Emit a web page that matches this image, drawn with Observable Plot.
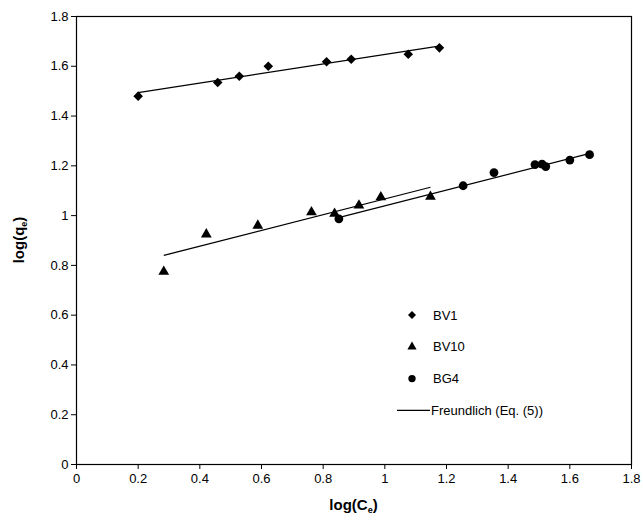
<!DOCTYPE html>
<html><head><meta charset="utf-8">
<script src="https://cdn.jsdelivr.net/npm/d3@7"></script>
<script src="https://cdn.jsdelivr.net/npm/@observablehq/plot@0.6"></script>
<style>body{margin:0;background:#fff} #chart{width:643px;height:521px}</style>
</head><body><div id="chart"></div>
<script>
// Data
const bv1X = [0.200, 0.458, 0.528, 0.622, 0.811, 0.891, 1.076, 1.177];
const bv1Y = [1.480, 1.535, 1.560, 1.600, 1.618, 1.628, 1.648, 1.674];
const bv10X = [0.283, 0.421, 0.588, 0.762, 0.837, 0.916, 0.987, 1.148];
const bv10Y = [0.775, 0.925, 0.960, 1.014, 1.008, 1.041, 1.074, 1.076];
const bg4X = [0.851, 1.254, 1.354, 1.487, 1.510, 1.522, 1.600, 1.664];
const bg4Y = [0.987, 1.120, 1.173, 1.205, 1.207, 1.197, 1.223, 1.245];
// Freundlich fit lines (start/end)
const fitSeries = ["BV1", "BV10", "BG4"];
const fitX1 = [0.200, 0.283, 0.850];
const fitY1 = [1.494, 0.840, 0.992];
const fitX2 = [1.175, 1.148, 1.665];
const fitY2 = [1.681, 1.114, 1.250];
const xTicks = [0, 0.2, 0.4, 0.6, 0.8, 1, 1.2, 1.4, 1.6, 1.8];
const xTickLabels = ["0", "0.2", "0.4", "0.6", "0.8", "1", "1.2", "1.4", "1.6", "1.8"];
const yTicks = [0, 0.2, 0.4, 0.6, 0.8, 1, 1.2, 1.4, 1.6, 1.8];
const yTickLabels = ["0", "0.2", "0.4", "0.6", "0.8", "1", "1.2", "1.4", "1.6", "1.8"];
const legendLabels = ["BV1", "BV10", "BG4", "Freundlich (Eq. (5))"];

const points = [
  ...bv1X.map((x, i) => ({series: "BV1", x, y: bv1Y[i]})),
  ...bv10X.map((x, i) => ({series: "BV10", x, y: bv10Y[i]})),
  ...bg4X.map((x, i) => ({series: "BG4", x, y: bg4Y[i]}))
];
const fits = fitSeries.map((s, i) => ({series: s, x1: fitX1[i], y1: fitY1[i], x2: fitX2[i], y2: fitY2[i]}));

const W = 643, H = 521;
const mL = 76, mR = 12, mT = 16, mB = 57;

const symFor = {BV1: "diamond2", BV10: "triangle", BG4: "circle"};
const rFor = {BV1: 4.3, BV10: 4.0, BG4: 4.4};

const plot = Plot.plot({
  width: W, height: H,
  marginLeft: mL, marginRight: mR, marginTop: mT, marginBottom: mB,
  style: {fontFamily: "'Liberation Sans', Arial, sans-serif", fontSize: "13px", color: "#000", background: "#fff"},
  x: {domain: [0, 1.8], ticks: xTicks, tickFormat: (d, i) => xTickLabels[i], tickSize: 5, tickPadding: 4, label: null},
  y: {domain: [0, 1.8], ticks: yTicks, tickFormat: (d, i) => yTickLabels[i], tickSize: 5, tickPadding: 3, label: null},
  marks: [
    Plot.frame({stroke: "#000", strokeWidth: 1.2}),
    Plot.link(fits, {x1: "x1", y1: "y1", x2: "x2", y2: "y2", stroke: "#000", strokeWidth: 1.2}),
    ...["BV1", "BV10", "BG4"].map(s =>
      Plot.dot(points.filter(d => d.series === s), {x: "x", y: "y", symbol: () => symFor[s], r: rFor[s], fill: "#000", stroke: "none"})
    )
  ]
});
document.getElementById("chart").appendChild(plot);

// Legend + axis titles
const svg = d3.select(plot);
const lg = svg.append("g").attr("font-family", "'Liberation Sans', Arial, sans-serif").attr("font-size", 13).attr("text-anchor", "start");
const lx = 412, ly0 = 315, step = 31.8;
const legSyms = [d3.symbolDiamond2, d3.symbolTriangle, d3.symbolCircle];
const legR = [3.6, 3.4, 3.7];
legSyms.forEach((t, i) => {
  lg.append("path")
    .attr("d", d3.symbol().type(t).size(Math.PI * legR[i] * legR[i])())
    .attr("transform", `translate(${lx},${ly0 + i * step})`)
    .attr("fill", "#000");
  lg.append("text").attr("x", 433).attr("y", ly0 + i * step).attr("dy", "0.35em").attr("text-anchor", "start").text(legendLabels[i]);
});
const fy = ly0 + 3 * step;
lg.append("line").attr("x1", 397).attr("x2", 430).attr("y1", fy).attr("y2", fy).attr("stroke", "#000").attr("stroke-width", 1.2);
lg.append("text").attr("x", 431).attr("y", fy).attr("dy", "0.35em").attr("text-anchor", "start").text(legendLabels[3]);

const xt = svg.append("text").attr("x", (mL + W - mR) / 2).attr("y", 510)
  .attr("text-anchor", "middle").attr("font-family", "'Liberation Sans', Arial, sans-serif")
  .attr("font-size", 15).attr("font-weight", "bold");
xt.append("tspan").text("log(C");
xt.append("tspan").attr("font-size", 9).attr("dy", 3).text("e");
xt.append("tspan").attr("dy", -3).text(")");

const yt = svg.append("text").attr("transform", `translate(24,${(mT + H - mB) / 2}) rotate(-90)`)
  .attr("text-anchor", "middle").attr("font-family", "'Liberation Sans', Arial, sans-serif")
  .attr("font-size", 15).attr("font-weight", "bold");
yt.append("tspan").text("log(q");
yt.append("tspan").attr("font-size", 9).attr("dy", 3).text("e");
yt.append("tspan").attr("dy", -3).text(")");
</script>
</body></html>
